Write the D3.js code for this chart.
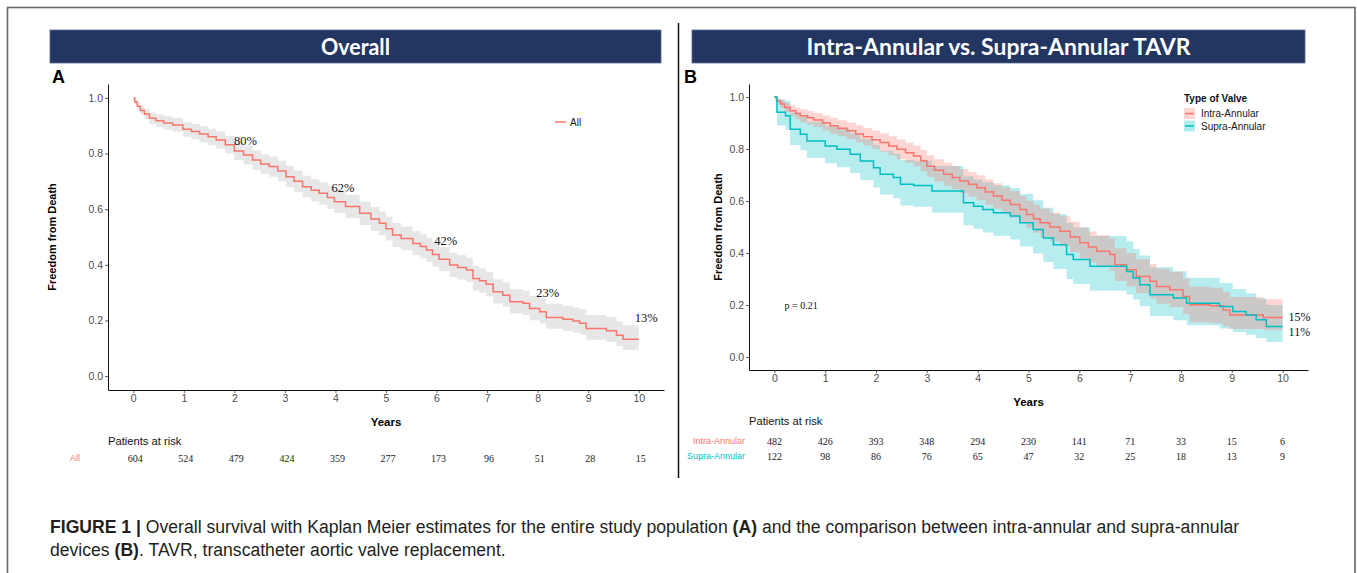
<!DOCTYPE html>
<html>
<head>
<meta charset="utf-8">
<script src="https://cdn.jsdelivr.net/npm/d3@7"></script>
<style>
  body { margin: 0; background: #fff; }
  text { font-family: "Liberation Sans", Arial, sans-serif; }
</style>
</head>
<body>
<div id="fig"></div>
<script>
//DATA=========================================================
let years = [0, 1, 2, 3, 4, 5, 6, 7, 8, 9, 10];
let yTicks = [0, 0.2, 0.4, 0.6, 0.8, 1.0];

// panel A: whole population, km steps
let allTime = [0, 0.03, 0.08, 0.14, 0.22, 0.32, 0.45, 0.6, 0.78, 0.98, 1.15, 1.31, 1.48, 1.64, 1.82, 2.0, 2.18, 2.36, 2.52, 2.69, 2.86, 3.02, 3.18, 3.35, 3.52, 3.68, 3.84, 3.98, 4.2, 4.48, 4.7, 4.87, 5.0, 5.13, 5.3, 5.53, 5.68, 5.8, 5.92, 6.05, 6.26, 6.42, 6.59, 6.72, 6.85, 6.98, 7.12, 7.31, 7.45, 7.71, 7.84, 8.04, 8.17, 8.5, 8.7, 8.83, 8.96, 9.36, 9.56, 9.69, 10.0];
let allSurv = [1.0, 0.985, 0.97, 0.955, 0.942, 0.927, 0.918, 0.91, 0.903, 0.887, 0.879, 0.87, 0.86, 0.849, 0.832, 0.809, 0.795, 0.777, 0.762, 0.753, 0.737, 0.717, 0.7, 0.681, 0.668, 0.657, 0.642, 0.627, 0.61, 0.585, 0.565, 0.549, 0.53, 0.507, 0.495, 0.477, 0.466, 0.453, 0.437, 0.42, 0.399, 0.39, 0.381, 0.351, 0.343, 0.33, 0.303, 0.291, 0.267, 0.262, 0.243, 0.231, 0.211, 0.204, 0.198, 0.19, 0.171, 0.163, 0.147, 0.132, 0.132];
let allLower = [1.0, 0.975, 0.957, 0.94, 0.924, 0.906, 0.895, 0.886, 0.878, 0.86, 0.851, 0.841, 0.83, 0.818, 0.8, 0.776, 0.761, 0.742, 0.727, 0.717, 0.7, 0.679, 0.661, 0.642, 0.628, 0.617, 0.601, 0.586, 0.568, 0.543, 0.522, 0.506, 0.487, 0.464, 0.452, 0.434, 0.423, 0.41, 0.394, 0.377, 0.356, 0.347, 0.338, 0.308, 0.3, 0.287, 0.261, 0.249, 0.225, 0.22, 0.201, 0.19, 0.17, 0.163, 0.157, 0.149, 0.131, 0.123, 0.108, 0.094, 0.094];
let allUpper = [1.0, 0.995, 0.983, 0.97, 0.96, 0.948, 0.94, 0.934, 0.928, 0.913, 0.906, 0.898, 0.889, 0.879, 0.863, 0.841, 0.828, 0.811, 0.797, 0.789, 0.774, 0.755, 0.739, 0.72, 0.708, 0.697, 0.683, 0.668, 0.652, 0.627, 0.608, 0.592, 0.573, 0.55, 0.538, 0.521, 0.51, 0.497, 0.481, 0.464, 0.443, 0.434, 0.425, 0.396, 0.388, 0.375, 0.348, 0.336, 0.312, 0.307, 0.288, 0.28, 0.26, 0.253, 0.247, 0.24, 0.22, 0.212, 0.197, 0.183, 0.183];
let pctLabelsA = ['80%', '62%', '42%', '23%', '13%'];
let pctTimesA = [2.22, 4.15, 6.18, 8.2, 10.15];
let pctValsA = [0.845, 0.677, 0.486, 0.3, 0.209];
let riskAll = [604, 524, 479, 424, 359, 277, 173, 96, 51, 28, 15];

// panel B: intra-annular vs supra-annular
let intraTime = [0, 0.04, 0.12, 0.2, 0.31, 0.42, 0.51, 0.65, 0.77, 0.95, 1.1, 1.25, 1.43, 1.6, 1.75, 1.92, 2.08, 2.25, 2.41, 2.58, 2.74, 2.88, 3.0, 3.15, 3.33, 3.5, 3.65, 3.82, 3.98, 4.15, 4.31, 4.48, 4.64, 4.83, 4.96, 5.1, 5.23, 5.42, 5.62, 5.82, 6.01, 6.18, 6.34, 6.6, 6.7, 6.93, 7.12, 7.39, 7.52, 7.78, 8.04, 8.17, 8.57, 8.83, 8.96, 9.62, 10.0];
let intraSurv = [1, 0.985, 0.973, 0.96, 0.947, 0.937, 0.928, 0.92, 0.912, 0.9, 0.889, 0.88, 0.87, 0.858, 0.847, 0.836, 0.825, 0.812, 0.799, 0.786, 0.773, 0.755, 0.734, 0.718, 0.703, 0.69, 0.677, 0.664, 0.651, 0.635, 0.619, 0.603, 0.587, 0.567, 0.548, 0.532, 0.516, 0.5, 0.484, 0.462, 0.439, 0.423, 0.407, 0.394, 0.355, 0.336, 0.31, 0.291, 0.271, 0.259, 0.233, 0.201, 0.197, 0.181, 0.162, 0.152, 0.152];
let intraLower = [1, 0.975, 0.958, 0.942, 0.926, 0.914, 0.903, 0.894, 0.885, 0.871, 0.859, 0.849, 0.838, 0.825, 0.813, 0.801, 0.789, 0.775, 0.761, 0.747, 0.733, 0.714, 0.692, 0.675, 0.659, 0.645, 0.631, 0.617, 0.603, 0.586, 0.57, 0.553, 0.536, 0.515, 0.495, 0.478, 0.461, 0.444, 0.427, 0.404, 0.38, 0.363, 0.346, 0.332, 0.292, 0.272, 0.245, 0.225, 0.205, 0.192, 0.165, 0.134, 0.13, 0.118, 0.108, 0.104, 0.104];
let intraUpper = [1, 0.995, 0.988, 0.978, 0.968, 0.96, 0.953, 0.946, 0.939, 0.929, 0.919, 0.911, 0.902, 0.891, 0.881, 0.871, 0.861, 0.849, 0.837, 0.825, 0.813, 0.796, 0.776, 0.761, 0.747, 0.735, 0.723, 0.711, 0.699, 0.684, 0.668, 0.653, 0.638, 0.619, 0.601, 0.586, 0.571, 0.556, 0.541, 0.52, 0.498, 0.483, 0.468, 0.456, 0.418, 0.4, 0.376, 0.358, 0.339, 0.328, 0.302, 0.27, 0.266, 0.25, 0.231, 0.222, 0.222];
let supraTime = [0, 0.05, 0.22, 0.31, 0.51, 0.64, 1.0, 1.23, 1.49, 1.69, 1.95, 2.08, 2.34, 2.48, 2.74, 3.1, 3.72, 3.92, 4.1, 4.31, 4.64, 4.83, 5.09, 5.29, 5.49, 5.75, 5.88, 6.21, 6.93, 7.06, 7.19, 7.39, 7.85, 8.11, 8.76, 9.02, 9.28, 9.48, 9.68, 10.0];
let supraSurv = [1, 0.941, 0.928, 0.876, 0.857, 0.831, 0.812, 0.799, 0.78, 0.754, 0.728, 0.703, 0.69, 0.664, 0.66, 0.638, 0.593, 0.58, 0.567, 0.555, 0.542, 0.516, 0.49, 0.458, 0.432, 0.394, 0.375, 0.349, 0.329, 0.304, 0.278, 0.239, 0.227, 0.207, 0.194, 0.175, 0.162, 0.143, 0.117, 0.117];
let supraLower = [1, 0.89, 0.875, 0.815, 0.795, 0.765, 0.745, 0.73, 0.708, 0.68, 0.652, 0.625, 0.611, 0.583, 0.578, 0.555, 0.507, 0.493, 0.479, 0.466, 0.452, 0.425, 0.398, 0.365, 0.338, 0.3, 0.281, 0.255, 0.24, 0.222, 0.195, 0.158, 0.141, 0.122, 0.11, 0.096, 0.086, 0.072, 0.058, 0.058];
let supraUpper = [1, 0.99, 0.985, 0.94, 0.925, 0.905, 0.888, 0.877, 0.86, 0.838, 0.815, 0.793, 0.782, 0.758, 0.755, 0.735, 0.695, 0.683, 0.672, 0.661, 0.65, 0.627, 0.603, 0.574, 0.55, 0.515, 0.498, 0.465, 0.445, 0.415, 0.39, 0.345, 0.33, 0.305, 0.285, 0.262, 0.245, 0.225, 0.2, 0.2];
let groupsB = ['Intra-Annular', 'Supra-Annular'];
let riskIntra = [482, 426, 393, 348, 294, 230, 141, 71, 33, 15, 6];
let riskSupra = [122, 98, 86, 76, 65, 47, 32, 25, 18, 13, 9];
let endLabelsB = ['15%', '11%'];
let endValsB = [0.155, 0.097];

//colours, ggplot defaults
let red = '#F8766D';
let teal = '#00BFC4';

//SETUP========================================================
let svg = d3.select('#fig').append('svg')
  .attr('width', 1357)
  .attr('height', 573);

//frame round the whole figure and the divider between panels
svg.append('rect')
  .attr('x', 7.5).attr('y', 7.5)
  .attr('width', 1347.5).attr('height', 620)
  .attr('fill', 'none').attr('stroke', '#666').attr('stroke-width', 1.6);
svg.append('line')
  .attr('x1', 678.5).attr('x2', 678.5).attr('y1', 23).attr('y2', 478)
  .attr('stroke', '#111').attr('stroke-width', 1.5);

//header bars, text squeezed to the width seen in the picture
function header(x, w, label, textW) {
  svg.append('rect')
    .attr('x', x).attr('y', 30).attr('width', w).attr('height', 33)
    .attr('fill', '#233561').attr('stroke', '#5a6a90').attr('stroke-width', 0.8);
  svg.append('text')
    .attr('x', x + w / 2).attr('y', 47).attr('dy', '0.35em')
    .attr('text-anchor', 'middle')
    .attr('textLength', textW).attr('lengthAdjust', 'spacingAndGlyphs')
    .style('font-family', 'Lato, "Open Sans", sans-serif')
    .style('font-weight', 700).style('font-size', '22px')
    .attr('fill', '#fff')
    .text(label);
}
header(50, 611, 'Overall', 69);
header(692, 613, 'Intra-Annular vs. Supra-Annular TAVR', 384);

//panel letters
svg.append('text').attr('x', 52).attr('y', 83).text('A')
  .style('font-weight', 700).style('font-size', '18px');
svg.append('text').attr('x', 684).attr('y', 83).text('B')
  .style('font-weight', 700).style('font-size', '18px');

//builds rows for a curve
function rows(t, s, lo, hi) {
  return t.map((d, i) => ({ t: d, s: s[i], lo: lo[i], hi: hi[i] }));
}

//axes, titles for one panel
function axes(x, y, x0, y0, yBottom, xRight, titleX) {
  let xg = svg.append('g')
    .attr('transform', `translate(0,${yBottom})`)
    .call(d3.axisBottom(x).tickValues(years).tickSize(3).tickSizeOuter(0).tickPadding(2));
  let yg = svg.append('g')
    .attr('transform', `translate(${x0},0)`)
    .call(d3.axisLeft(y).tickValues(yTicks).tickFormat(d3.format('.1f')).tickSize(3).tickSizeOuter(0).tickPadding(2));
  [xg, yg].forEach(g => {
    g.select('.domain').attr('stroke', '#111').attr('stroke-width', 1);
    g.selectAll('.tick line').attr('stroke', '#333').attr('stroke-width', 0.8);
    g.selectAll('.tick text').attr('fill', '#4d4d4d')
      .style('font-size', '10.5px').style('font-family', '"Liberation Sans", Arial, sans-serif');
  });
  let cx = (x0 + xRight) / 2;
  svg.append('text')
    .attr('x', cx).attr('y', yBottom + 32).attr('dy', '0.35em')
    .attr('text-anchor', 'middle')
    .style('font-weight', 700).style('font-size', '11.5px')
    .text('Years');
  let cy = (y0 + yBottom) / 2;
  svg.append('text')
    .attr('transform', `translate(${titleX},${cy}) rotate(-90)`)
    .attr('dy', '0.35em')
    .attr('text-anchor', 'middle')
    .style('font-weight', 700).style('font-size', '11px')
    .text('Freedom from Death');
}

//PANEL A======================================================
let xA = d3.scaleLinear().domain([-0.5, 10.5]).range([108, 664]);
let yA = d3.scaleLinear().domain([-0.05, 1.05]).range([390, 84]);

let bandA = d3.area().curve(d3.curveStepAfter)
  .x(d => xA(d.t)).y0(d => yA(d.lo)).y1(d => yA(d.hi));
let lineA = d3.line().curve(d3.curveStepAfter)
  .x(d => xA(d.t)).y(d => yA(d.s));

let allRows = rows(allTime, allSurv, allLower, allUpper);
svg.append('path').datum(allRows).attr('d', bandA).attr('fill', '#e7e7e7');
svg.append('path').datum(allRows).attr('d', lineA)
  .attr('fill', 'none').attr('stroke', red).attr('stroke-width', 1.5);

axes(xA, yA, 108, 84, 390, 664, 52);

//percent labels
svg.selectAll('.pctA').data(pctLabelsA).enter().append('text')
  .attr('class', 'pctA')
  .attr('x', (d, i) => xA(pctTimesA[i]))
  .attr('y', (d, i) => yA(pctValsA[i]))
  .attr('dy', '0.35em').attr('text-anchor', 'middle')
  .style('font-family', '"Liberation Serif", "Times New Roman", serif').style('font-size', '12.5px')
  .attr('fill', '#111')
  .text(d => d);

//legend
svg.append('line').attr('x1', 555).attr('x2', 566).attr('y1', 122).attr('y2', 122)
  .attr('stroke', red).attr('stroke-width', 1.5);
svg.append('text').attr('x', 570).attr('y', 122).attr('dy', '0.35em')
  .style('font-size', '10px').attr('fill', '#1a1a1a').text('All');

//risk table
svg.append('text').attr('x', 108).attr('y', 441).attr('dy', '0.35em')
  .style('font-size', '11.2px').attr('fill', '#111').text('Patients at risk');
svg.append('text').attr('x', 75).attr('y', 458).attr('dy', '0.35em')
  .attr('text-anchor', 'middle').style('font-size', '9px').attr('fill', red).text('All');
svg.selectAll('.riskA').data(riskAll).enter().append('text')
  .attr('class', 'riskA')
  .attr('x', (d, i) => xA(years[i]) + 2).attr('y', 458).attr('dy', '0.35em')
  .attr('text-anchor', 'middle')
  .style('font-family', '"Liberation Serif", "Times New Roman", serif').style('font-size', '10px')
  .attr('fill', '#222')
  .text(d => d);

//PANEL B======================================================
let xB = d3.scaleLinear().domain([-0.5, 10.5]).range([749, 1308]);
let yB = d3.scaleLinear().domain([-0.05, 1.05]).range([370, 84]);

let bandB = d3.area().curve(d3.curveStepAfter)
  .x(d => xB(d.t)).y0(d => yB(d.lo)).y1(d => yB(d.hi));
let lineB = d3.line().curve(d3.curveStepAfter)
  .x(d => xB(d.t)).y(d => yB(d.s));

let intraRows = rows(intraTime, intraSurv, intraLower, intraUpper);
let supraRows = rows(supraTime, supraSurv, supraLower, supraUpper);

svg.append('path').datum(supraRows).attr('d', bandB).attr('fill', teal).attr('fill-opacity', 0.28);
svg.append('path').datum(intraRows).attr('d', bandB).attr('fill', red).attr('fill-opacity', 0.3);
svg.append('path').datum(intraRows).attr('d', lineB)
  .attr('fill', 'none').attr('stroke', red).attr('stroke-width', 1.5);
svg.append('path').datum(supraRows).attr('d', lineB)
  .attr('fill', 'none').attr('stroke', teal).attr('stroke-width', 1.5);

axes(xB, yB, 749, 84, 370, 1308, 718);

//end labels and p value
svg.selectAll('.endB').data(endLabelsB).enter().append('text')
  .attr('class', 'endB')
  .attr('x', xB(10) + 6)
  .attr('y', (d, i) => yB(endValsB[i]))
  .attr('dy', '0.35em')
  .style('font-family', '"Liberation Serif", "Times New Roman", serif').style('font-size', '12px')
  .attr('fill', '#111')
  .text(d => d);
svg.append('text').attr('x', xB(0.2)).attr('y', yB(0.2)).attr('dy', '0.35em')
  .style('font-family', '"Liberation Serif", "Times New Roman", serif').style('font-size', '10px')
  .attr('fill', '#111').text('p = 0.21');

//legend
let legB = svg.append('g').attr('transform', 'translate(1184,98)');
legB.append('text').attr('y', 0).attr('dy', '0.35em')
  .style('font-weight', 700).style('font-size', '10px').attr('fill', '#111').text('Type of Valve');
groupsB.forEach((name, i) => {
  let col = i == 0 ? red : teal;
  let yy = 15.5 + i * 12.5;
  legB.append('rect').attr('x', 0).attr('y', yy - 5.5).attr('width', 11).attr('height', 11)
    .attr('fill', col).attr('fill-opacity', 0.3);
  legB.append('line').attr('x1', 1).attr('x2', 10).attr('y1', yy).attr('y2', yy)
    .attr('stroke', col).attr('stroke-width', 1.5);
  legB.append('text').attr('x', 17).attr('y', yy).attr('dy', '0.35em')
    .style('font-size', '10px').attr('fill', '#1a1a1a').text(name);
});

//risk table
svg.append('text').attr('x', 749).attr('y', 421).attr('dy', '0.35em')
  .style('font-size', '11.2px').attr('fill', '#111').text('Patients at risk');
[riskIntra, riskSupra].forEach((arr, j) => {
  let yy = 441 + j * 15;
  svg.append('text').attr('x', 745).attr('y', yy).attr('dy', '0.35em')
    .attr('text-anchor', 'end').style('font-size', '9px')
    .attr('fill', j == 0 ? red : teal).text(groupsB[j]);
  svg.selectAll('.riskB' + j).data(arr).enter().append('text')
    .attr('class', 'riskB' + j)
    .attr('x', (d, i) => xB(years[i])).attr('y', yy).attr('dy', '0.35em')
    .attr('text-anchor', 'middle')
    .style('font-family', '"Liberation Serif", "Times New Roman", serif').style('font-size', '10px')
    .attr('fill', '#222')
    .text(d => d);
});

//CAPTION======================================================
let cap1 = svg.append('text').attr('x', 50).attr('y', 533)
  .style('font-size', '17.6px').attr('fill', '#231f20');
cap1.append('tspan').style('font-weight', 700).text('FIGURE 1 |');
cap1.append('tspan').text(' Overall survival with Kaplan Meier estimates for the entire study population ');
cap1.append('tspan').style('font-weight', 700).text('(A)');
cap1.append('tspan').text(' and the comparison between intra-annular and supra-annular');
let cap2 = svg.append('text').attr('x', 50).attr('y', 556)
  .style('font-size', '17.6px').attr('fill', '#231f20');
cap2.append('tspan').text('devices ');
cap2.append('tspan').style('font-weight', 700).text('(B)');
cap2.append('tspan').text('. TAVR, transcatheter aortic valve replacement.');
</script>
</body>
</html>
